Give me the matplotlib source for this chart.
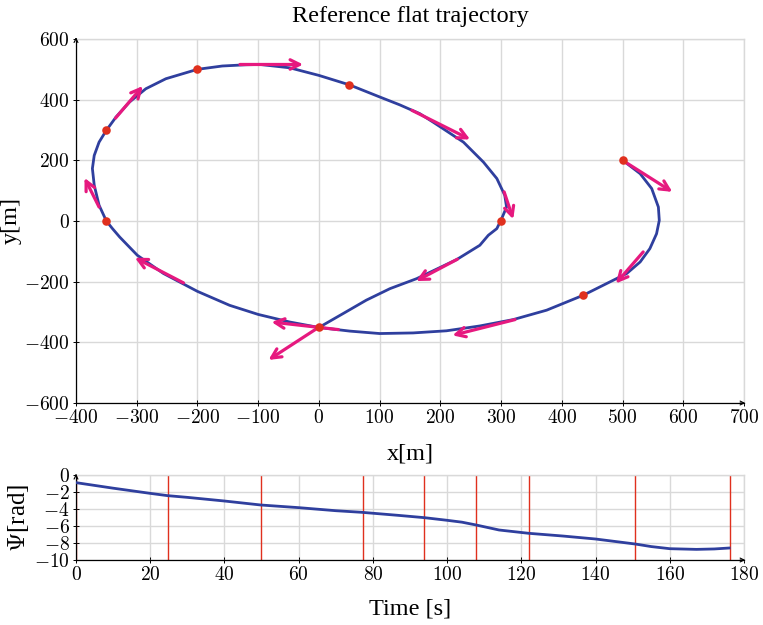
import matplotlib
matplotlib.use("Agg")
import matplotlib.pyplot as plt
from matplotlib.ticker import FuncFormatter, MultipleLocator

plt.rcParams['font.family'] = ['Liberation Serif', 'DejaVu Serif']
plt.rcParams['mathtext.fontset'] = 'cm'

# ---- data ----
traj_x = [501, 529, 548, 559, 560.5, 556, 545, 529, 507, 479, 446, 435, 375, 320, 265, 210, 155,
          100, 51, 0, -48, -100, -147, -200, -256, -299, -328, -340, -350, -362, -370, -373, -370,
          -362, -350, -334, -312, -285, -252, -200, -159, -120, -97, -48, 0, 50, 100, 133, 166,
          188, 238, 271, 293, 306, 309, 301, 293, 279, 265, 227, 161, 117, 78, 40, 0]
traj_y = [199, 156, 107, 46, 2, -42, -91, -135, -173, -201, -234, -245, -294, -325, -346, -362,
          -369, -371, -363, -351, -333, -308, -278, -232, -173, -113, -53, -25, 0, 52, 118, 173,
          216, 260, 299, 343, 392, 436, 469, 500, 511, 515, 516, 505, 480, 449, 409, 383, 354,
          326, 260, 194, 140, 85, 46, 8, -25, -47, -80, -127, -190, -223, -261, -305, -351]

wp_x = [500, 435, 0, -350, -350, -200, 50, 300]
wp_y = [200, -245, -350, 0, 300, 500, 450, 0]

arrow_x0 = [500, 534, 323, 32, 0, -223, -362, -335, -130, 153, 305, 228]
arrow_y0 = [200, -102, -325, -358, -350, -204, 46, 339, 516, 365, 96, -126]
arrow_x1 = [582, 489, 220, -78, -83, -303, -386, -290, -26, 249, 320, 160]
arrow_y1 = [96, -206, -377, -333, -458, -121, 142, 445, 516, 269, 6, -198]

time_s = [0, 10, 20, 24.7, 30, 40, 49.8, 60, 70, 77, 86.9, 93.9, 100, 104, 107.8, 114, 122,
          131.2, 140, 150.7, 155, 160, 167.2, 172, 176]
psi = [-0.9, -1.55, -2.16, -2.43, -2.63, -3.06, -3.53, -3.84, -4.2, -4.39, -4.75, -5.02, -5.33,
       -5.55, -5.88, -6.47, -6.86, -7.18, -7.53, -8.12, -8.42, -8.67, -8.75, -8.7, -8.59]
wp_times = [0, 24.8, 49.8, 77.3, 93.9, 107.8, 122, 150.7, 176.3]

BLUE = '#2f3f9e'
RED = '#e0301e'
MAGENTA = '#e6197f'
GRID = '#d9d9d9'

fig = plt.figure(figsize=(7.63, 6.25), dpi=100)
ax = fig.add_axes([76/763, 1-403/625, 668/763, 364/625])
ax2 = fig.add_axes([76/763, 1-560/625, 668/763, 85/625])

fmt = FuncFormatter(lambda v, p: r'$%g$' % v)

def style(a):
    a.grid(True, color=GRID, lw=1.0)
    a.set_axisbelow(True)
    for s in ('top', 'right'):
        a.spines[s].set_color(GRID)
        a.spines[s].set_linewidth(1.0)
    for s in ('left', 'bottom'):
        a.spines[s].set_linewidth(0.9)
    a.tick_params(direction='inout', length=5, width=0.7, labelsize=14, pad=2)
    a.xaxis.set_major_formatter(fmt)
    a.yaxis.set_major_formatter(fmt)
    a.annotate('', xy=(0, 1.012), xytext=(0, 0.99), xycoords='axes fraction',
               arrowprops=dict(arrowstyle='->', lw=0.8, color='black', mutation_scale=7))
    a.annotate('', xy=(1.006, 0), xytext=(0.99, 0), xycoords='axes fraction',
               arrowprops=dict(arrowstyle='->', lw=0.8, color='black', mutation_scale=7))

# ---- top: trajectory ----
ax.plot(traj_x, traj_y, color=BLUE, lw=2.0, zorder=3, solid_joinstyle='round')
for x0, y0, x1, y1 in zip(arrow_x0, arrow_y0, arrow_x1, arrow_y1):
    ax.annotate('', xy=(x1, y1), xytext=(x0, y0),
                arrowprops=dict(arrowstyle='->', color=MAGENTA, lw=2.3,
                                mutation_scale=17, shrinkA=0, shrinkB=0), zorder=4)
ax.scatter(wp_x, wp_y, s=38, color=RED, zorder=5, linewidths=0)
ax.set_xlim(-400, 700)
ax.set_ylim(-600, 600)
ax.xaxis.set_major_locator(MultipleLocator(100))
ax.yaxis.set_major_locator(MultipleLocator(200))
style(ax)
ax.set_title('Reference flat trajectory', fontsize=17.5, pad=12)
ax.set_xlabel('x[m]', fontsize=17.5, labelpad=12)
ax.set_ylabel('y[m]', fontsize=17.5, labelpad=2)

# ---- bottom: heading ----
for t in wp_times:
    ax2.axvline(t, color=RED, lw=1.0, zorder=2)
ax2.plot(time_s, psi, color=BLUE, lw=2.0, zorder=3)
ax2.set_xlim(0, 180)
ax2.set_ylim(-10, 0)
ax2.xaxis.set_major_locator(MultipleLocator(20))
ax2.yaxis.set_major_locator(MultipleLocator(2))
style(ax2)
ax2.set_xlabel('Time [s]', fontsize=17.5, labelpad=10)
ax2.set_ylabel(r'$\boldsymbol{\Psi}$[rad]', fontsize=18, labelpad=2)

fig.savefig('out.png', dpi=100)
